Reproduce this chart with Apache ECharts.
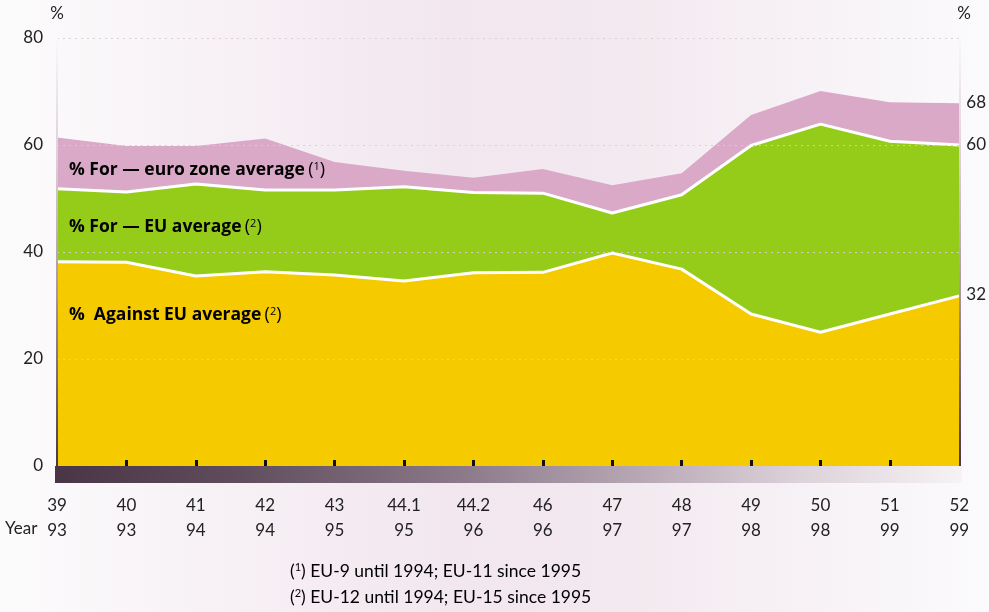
<!DOCTYPE html>
<html>
<head>
<meta charset="utf-8">
<script src="https://cdn.jsdelivr.net/npm/echarts@6/dist/echarts.min.js"></script>
<style>html,body{margin:0;padding:0;}#c{width:989px;height:612px;}</style>
</head>
<body>
<div id="c"></div>
<script>
// Survey numbers (top line) and years (bottom line)
const surveys = ['39','40','41','42','43','44.1','44.2','46','47','48','49','50','51','52'];
const years   = ['93','93','94','94','95','95','96','96','97','97','98','98','99','99'];
// Values (%)
const againstEU = [38.2, 38.1, 35.5, 36.3, 35.7, 34.6, 36.1, 36.2, 39.8, 36.8, 28.4, 25.0, 28.4, 31.8];
const forEU     = [51.8, 51.2, 52.7, 51.6, 51.6, 52.2, 51.1, 51.0, 47.3, 50.7, 59.9, 63.9, 60.7, 60.0];
const forEuro   = [61.4, 59.8, 59.8, 61.2, 56.8, 55.2, 53.9, 55.5, 52.5, 54.7, 65.6, 70.1, 68.0, 67.8];
// Tick labels
const leftTicks = [0, 20, 40, 60, 80];
const rightTicks = [32, 60, 68];
const seriesNames = ['% For — euro zone average', '% For — EU average', '%  Against EU average'];
const footnotes = ['EU-9 until 1994; EU-11 since 1995', 'EU-12 until 1994; EU-15 since 1995'];

const FONT = 'Lato';
const LFONT = 'Open Sans';
const chart = echarts.init(document.getElementById('c'), null, {renderer: 'canvas'});
const G = echarts.graphic;
const axisGrad = new G.LinearGradient(0, 0, 0, 1, [
  {offset: 0, color: '#fbf9fb'},
  {offset: 0.3, color: '#d9cdd6'},
  {offset: 0.6, color: '#a7949f'},
  {offset: 1, color: '#4a3547'}
]);
const categories = surveys.map((s, i) => s + '\n' + years[i]);

const supRich = {
  b: {fontFamily: LFONT, fontSize: 17.5, fontWeight: 'bold', color: '#111'},
  p: {fontFamily: LFONT, fontSize: 18, color: '#111'},
  s: {fontFamily: LFONT, fontSize: 11, color: '#111', verticalAlign: 'top', padding: [0, 0, 6, 0]}
};
const noteRich = {
  t: {fontFamily: FONT, fontSize: 17.5, color: '#222'},
  s: {fontFamily: FONT, fontSize: 11, color: '#222', padding: [0, 0, 7, 0]}
};

const option = {
  animation: false,
  backgroundColor: new G.LinearGradient(0, 0, 1, 0, [
    {offset: 0, color: '#fcfbfc'},
    {offset: 0.45, color: '#f2e7ef'},
    {offset: 0.6, color: '#f2e8ef'},
    {offset: 1, color: '#fbfafc'}
  ]),
  grid: {left: 57, right: 28, top: 38, bottom: 146, containLabel: false},
  xAxis: {
    type: 'category',
    data: categories,
    boundaryGap: false,
    z: 5,
    axisLine: {show: false},
    axisTick: {
      show: true, inside: true, length: 6,
      lineStyle: {color: '#111', width: 3},
      interval: (i) => i > 0 && i < surveys.length - 1
    },
    axisLabel: {
      margin: 27, fontFamily: FONT, fontSize: 17, color: '#222', lineHeight: 25,
      interval: 0
    },
    splitLine: {show: false}
  },
  yAxis: [{
    type: 'value', min: 0, max: 80, interval: 20,
    position: 'left', z: 5,
    name: '%', nameLocation: 'end', nameGap: 16,
    nameTextStyle: {fontFamily: FONT, fontSize: 17, color: '#222', align: 'center'},
    axisLine: {show: true, lineStyle: {color: axisGrad, width: 2}},
    axisTick: {show: false},
    axisLabel: {margin: 14, fontFamily: FONT, fontSize: 17, color: '#222', customValues: leftTicks},
    splitLine: {show: true, lineStyle: {color: 'rgba(215,205,212,0.9)', type: [2, 4], width: 1.2}}
  }, {
    type: 'value', min: 0, max: 80,
    position: 'right', z: 5,
    name: '%', nameLocation: 'end', nameGap: 16,
    nameTextStyle: {fontFamily: FONT, fontSize: 17, color: '#222', align: 'left', padding: [0, 0, 0, -2]},
    axisLine: {show: true, lineStyle: {color: axisGrad, width: 2}},
    axisTick: {show: false},
    axisLabel: {margin: 7, fontFamily: FONT, fontSize: 17, color: '#222', customValues: rightTicks},
    splitLine: {show: false}
  }],
  series: [
    {
      name: seriesNames[0], type: 'line', data: forEuro, symbol: 'none',
      lineStyle: {width: 0}, areaStyle: {color: '#dba9c8', opacity: 1}, z: 2
    },
    {
      name: seriesNames[1], type: 'line', data: forEU, symbol: 'none',
      lineStyle: {width: 3, color: '#ffffff'}, areaStyle: {color: '#95cc1a', opacity: 1}, z: 2
    },
    {
      name: seriesNames[2], type: 'line', data: againstEU, symbol: 'none',
      lineStyle: {width: 3, color: '#ffffff'}, areaStyle: {color: '#f5cb00', opacity: 1}, z: 2
    }
  ],
  graphic: [
    {
      type: 'rect', left: 55, top: 466, z: 10,
      shape: {width: 907, height: 17},
      style: {fill: new G.LinearGradient(0, 0, 1, 0, [
        {offset: 0, color: '#4a3547'},
        {offset: 0.2, color: '#5f4c5c'},
        {offset: 0.45, color: '#8c7a8a'},
        {offset: 0.65, color: '#b9a9b6'},
        {offset: 0.82, color: '#dcd2da'},
        {offset: 1, color: '#f6f2f5'}
      ])}
    },
    {type: 'text', left: 5, top: 520, style: {text: 'Year', font: '17px ' + FONT, fill: '#222'}},
    {type: 'text', left: 69, top: 161, z: 20, style: {
      text: '{b|' + seriesNames[0] + '} {p|(}{s|1}{p|)}', rich: supRich
    }},
    {type: 'text', left: 69, top: 218, z: 20, style: {
      text: '{b|' + seriesNames[1] + '} {p|(}{s|2}{p|)}', rich: supRich
    }},
    {type: 'text', left: 69, top: 306, z: 20, style: {
      text: '{b|' + seriesNames[2] + '} {p|(}{s|2}{p|)}', rich: supRich
    }},
    {type: 'text', left: 290, top: 562, style: {text: '{t|(}{s|1}{t|) ' + footnotes[0] + '}', rich: noteRich}},
    {type: 'text', left: 290, top: 588, style: {text: '{t|(}{s|2}{t|) ' + footnotes[1] + '}', rich: noteRich}}
  ]
};
chart.setOption(option);
</script>
</body>
</html>
